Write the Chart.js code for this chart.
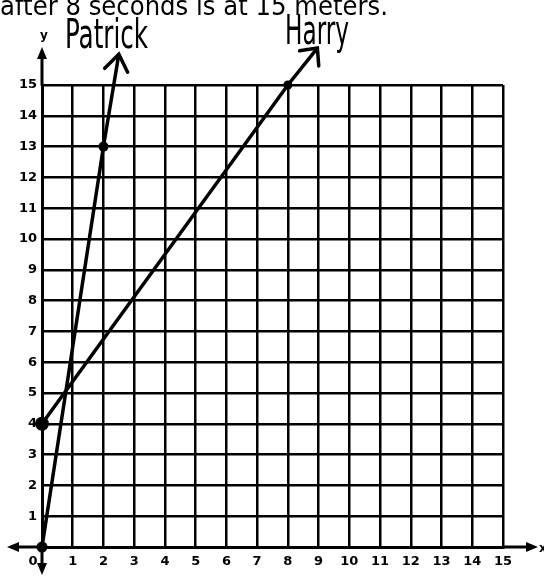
<!DOCTYPE html>
<html><head><meta charset="utf-8">
<script src="https://cdn.jsdelivr.net/npm/chart.js@4/dist/chart.umd.min.js"></script>
<style>html,body{margin:0;padding:0;background:#fff;overflow:hidden}#wrap{width:544px;height:577px}</style>
</head><body><div id="wrap"><canvas id="c" width="544" height="577"></canvas></div>
<script>
// ---- data ----
const xTickValues = [0,1,2,3,4,5,6,7,8,9,10,11,12,13,14,15];
const xTickLabels = ['0\u2007\u2007','1','2','3','4','5','6','7','8','9','10','11','12','13','14','15'];
const yTickValues = [0,1,2,3,4,5,6,7,8,9,10,11,12,13,14,15];
const yTickLabels = ['','1','2','3','4','5','6','7','8','9','10','11','12','13','14','15'];
const seriesNames = ['Patrick','Harry'];
const patrickX = [0, 2, 2.5];
const patrickY = [0, 13, 16];
const harryX = [0, 8, 8.96];
const harryY = [4, 15, 16.2];
const patrickDots = [5.5, 5, 0];
const harryDots = [7, 4.5, 0];
const caption = 'after 8 seconds is at 15 meters.';
const axisNames = ['x','y'];

const toPts = (xs, ys) => xs.map((x,i)=>({x, y: ys[i]}));

function arrowOpen(ctx, x1, y1, x2, y2, len, ang){
  const a = Math.atan2(y2-y1, x2-x1);
  ctx.beginPath();
  ctx.moveTo(x2 - len*Math.cos(a-ang), y2 - len*Math.sin(a-ang));
  ctx.lineTo(x2, y2);
  ctx.lineTo(x2 - len*Math.cos(a+ang), y2 - len*Math.sin(a+ang));
  ctx.stroke();
}
function arrowFill(ctx, x1, y1, x2, y2, len, half){
  const a = Math.atan2(y2-y1, x2-x1);
  const bx = x2 - len*Math.cos(a), by = y2 - len*Math.sin(a);
  ctx.beginPath();
  ctx.moveTo(x2, y2);
  ctx.lineTo(bx + half*Math.sin(a), by - half*Math.cos(a));
  ctx.lineTo(bx - half*Math.sin(a), by + half*Math.cos(a));
  ctx.closePath();
  ctx.fill();
}
function fitText(ctx, txt, left, base, width, font){
  ctx.save();
  ctx.font = font;
  const w = ctx.measureText(txt).width;
  ctx.translate(left, base);
  ctx.scale(width / w, 1);
  ctx.textAlign = 'left';
  ctx.textBaseline = 'alphabetic';
  ctx.fillText(txt, 0, 0);
  ctx.restore();
}

const decor = {
  id: 'decor',
  afterDatasetsDraw(chart){
    const ctx = chart.ctx;
    const xs = chart.scales.x, ys = chart.scales.y;
    const x0 = xs.getPixelForValue(0), y0 = ys.getPixelForValue(0);
    ctx.save();
    ctx.strokeStyle = '#000'; ctx.fillStyle = '#000';
    ctx.lineWidth = 3; ctx.lineCap = 'round';
    // axis extensions
    ctx.beginPath();
    ctx.moveTo(x0, ys.getPixelForValue(15)); ctx.lineTo(x0, 52);
    ctx.moveTo(x0, y0); ctx.lineTo(x0, 570);
    ctx.moveTo(12, y0); ctx.lineTo(x0, y0);
    ctx.moveTo(xs.getPixelForValue(15), y0); ctx.lineTo(532, y0);
    ctx.stroke();
    arrowFill(ctx, x0, 80, x0, 47, 12, 5);
    arrowFill(ctx, x0, 560, x0, 575, 12, 5);
    arrowFill(ctx, 30, y0, 7, y0, 12, 5);
    arrowFill(ctx, 520, y0, 538, y0, 12, 5);
    // arrowheads on the series lines
    ctx.lineWidth = 3.5;
    const pA = [xs.getPixelForValue(patrickX[1]), ys.getPixelForValue(patrickY[1])];
    const pB = [xs.getPixelForValue(patrickX[2]), ys.getPixelForValue(patrickY[2])];
    arrowOpen(ctx, pA[0], pA[1], pB[0], pB[1], 20, 0.62);
    const hA = [xs.getPixelForValue(harryX[1]), ys.getPixelForValue(harryY[1])];
    const hB = [xs.getPixelForValue(harryX[2]), ys.getPixelForValue(harryY[2])];
    arrowOpen(ctx, hA[0], hA[1], hB[0], hB[1], 18, 0.75);
    // axis names
    ctx.font = 'bold 12px "DejaVu Sans"';
    ctx.textAlign = 'center'; ctx.textBaseline = 'middle';
    ctx.fillText(axisNames[1], x0 + 2, 36);
    ctx.textAlign = 'left';
    ctx.fillText(axisNames[0], 539, y0 + 2);
    // handwritten series names
    const hand = '40px "Liberation Sans Narrow", "DejaVu Sans Condensed", sans-serif';
    fitText(ctx, seriesNames[0], 65, 48, 83, hand);
    fitText(ctx, seriesNames[1], 285, 44, 64, hand);
    // caption (cut off at top)
    ctx.font = '27px "DejaVu Sans"';
    const cw = ctx.measureText(caption).width;
    ctx.save();
    ctx.translate(0, 15);
    ctx.scale(388 / cw, 1);
    ctx.textAlign = 'left'; ctx.textBaseline = 'alphabetic';
    ctx.fillText(caption, 0, 0);
    ctx.restore();
    ctx.restore();
  }
};

const tickFont = {family: '"DejaVu Sans"', size: 13, weight: 'bold'};
new Chart(document.getElementById('c'), {
  type: 'scatter',
  data: {
    datasets: [
      {label: seriesNames[0], data: toPts(patrickX, patrickY), showLine: true,
       borderColor: '#000', backgroundColor: '#000', borderWidth: 3.5,
       pointRadius: patrickDots, pointBackgroundColor: '#000', pointBorderWidth: 0, clip: false},
      {label: seriesNames[1], data: toPts(harryX, harryY), showLine: true,
       borderColor: '#000', backgroundColor: '#000', borderWidth: 3.5,
       pointRadius: harryDots, pointBackgroundColor: '#000', pointBorderWidth: 0, clip: false}
    ]
  },
  options: {
    responsive: false, animation: false, devicePixelRatio: 1,
    layout: {padding: {top: 85, right: 41, left: 0, bottom: 0}},
    plugins: {legend: {display: false}, tooltip: {enabled: false}, title: {display: false}},
    scales: {
      x: {type: 'linear', min: 0, max: 15,
          afterBuildTicks: s => { s.ticks = xTickValues.map(v => ({value: v})); },
          afterFit: s => { s.height = 30; },
          ticks: {color: '#000', font: tickFont, padding: 7, maxRotation: 0, autoSkip: false,
                  callback: (v) => xTickLabels[xTickValues.indexOf(v)]},
          grid: {color: '#000', lineWidth: 2.5, drawTicks: false},
          border: {color: '#000', width: 3}},
      y: {type: 'linear', min: 0, max: 15,
          afterBuildTicks: s => { s.ticks = yTickValues.map(v => ({value: v})); },
          afterFit: s => { s.width = 42; },
          ticks: {color: '#000', font: tickFont, padding: 5, autoSkip: false,
                  callback: (v) => yTickLabels[yTickValues.indexOf(v)]},
          grid: {color: '#000', lineWidth: 2.5, drawTicks: false},
          border: {color: '#000', width: 3}}
    }
  },
  plugins: [decor]
});
</script>
</body></html>
